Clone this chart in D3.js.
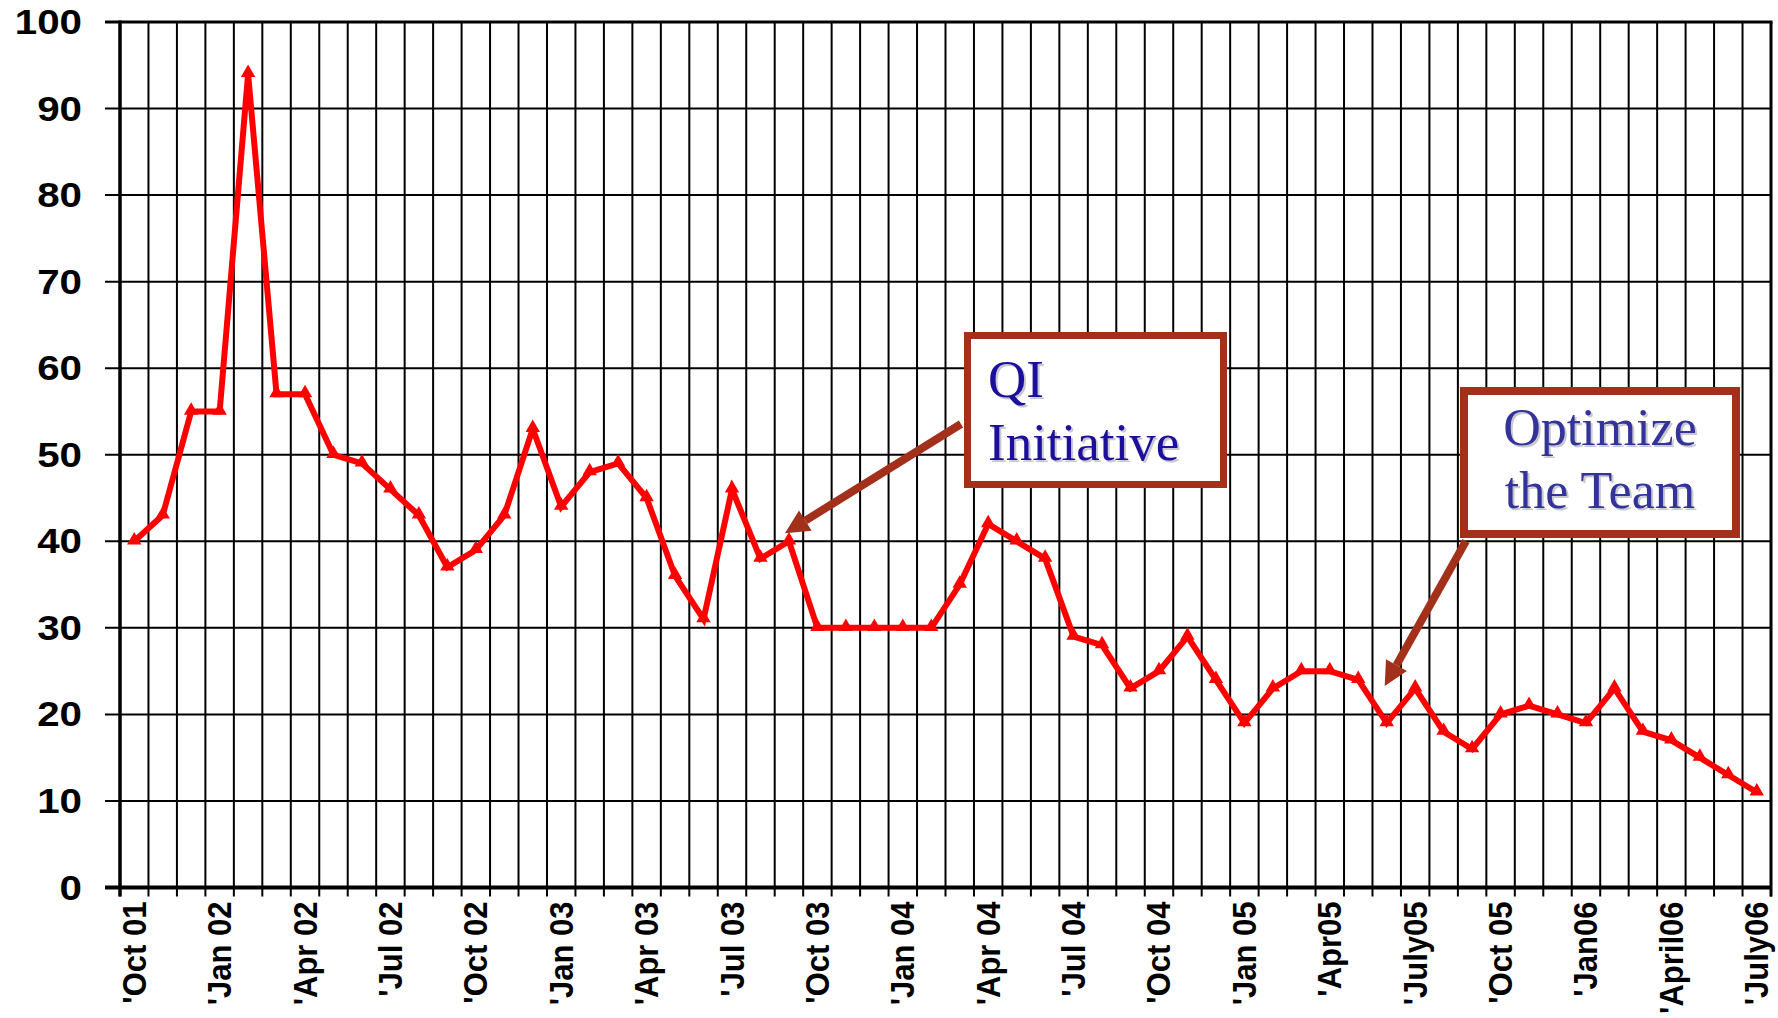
<!DOCTYPE html>
<html>
<head>
<meta charset="utf-8">
<script src="https://cdn.jsdelivr.net/npm/d3@7"></script>
<style>
  body { margin: 0; background: #fff; }
  svg { display: block; }
</style>
</head>
<body>
<div id="my_chart"></div>
<script>
// monthly categories, Oct 2001 .. Jul 2006
const categories = [
  "Oct 01","Nov 01","Dec 01",
  "Jan 02","Feb 02","Mar 02","Apr 02","May 02","Jun 02","Jul 02","Aug 02","Sep 02","Oct 02","Nov 02","Dec 02",
  "Jan 03","Feb 03","Mar 03","Apr 03","May 03","Jun 03","Jul 03","Aug 03","Sep 03","Oct 03","Nov 03","Dec 03",
  "Jan 04","Feb 04","Mar 04","Apr 04","May 04","Jun 04","Jul 04","Aug 04","Sep 04","Oct 04","Nov 04","Dec 04",
  "Jan 05","Feb 05","Mar 05","Apr 05","May 05","Jun 05","Jul 05","Aug 05","Sep 05","Oct 05","Nov 05","Dec 05",
  "Jan 06","Feb 06","Mar 06","Apr 06","May 06","Jun 06","Jul 06"
];

// values
const values = [
  40,43,55,55,94,57,57,50,49,46,
  43,37,39,43,53,44,48,49,45,36,
  31,46,38,40,30,30,30,30,30,35,
  42,40,38,29,28,23,25,29,24,19,
  23,25,25,24,19,23,18,16,20,21,
  20,19,23,18,17,15,13,11
];

// x tick labels, one every third month
const tickLabels = ["'Oct 01","'Jan 02","'Apr 02","'Jul 02","'Oct 02","'Jan 03","'Apr 03","'Jul 03","'Oct 03","'Jan 04",
  "'Apr 04","'Jul 04","'Oct 04","'Jan 05","'Apr05","'July05","'Oct 05","'Jan06","'April06","'July06"];

const yTicks = [0,10,20,30,40,50,60,70,80,90,100];

const data = categories.map((c, i) => ({month: c, value: values[i]}))

// set the dimensions and margins of the graph
const margin = {top: 22, right: 7, bottom: 130.5, left: 120},
    width = 1778 - margin.left - margin.right,
    height = 1018 - margin.top - margin.bottom;

const svg = d3.select("#my_chart")
  .append("svg")
    .attr("width", 1778)
    .attr("height", 1018)
  .append("g")
    .attr("transform", `translate(${margin.left}, ${margin.top})`);

// scales
const x = d3.scaleBand()
  .domain(categories)
  .range([0, width])
  .paddingInner(0)
  .paddingOuter(0);

const y = d3.scaleLinear()
  .domain([0, 100])
  .range([height, 0]);

// vertical grid lines at the category boundaries, with a tick below the axis
const bounds = categories.map(c => x(c)).concat([width]);
svg.append("g")
  .selectAll("line")
  .data(bounds)
  .enter()
  .append("line")
    .attr("x1", d => d)
    .attr("x2", d => d)
    .attr("y1", 0)
    .attr("y2", height + 9)
    .attr("stroke", "#000")
    .attr("stroke-width", 2);

// horizontal grid lines
svg.append("g")
  .selectAll("line")
  .data(yTicks)
  .enter()
  .append("line")
    .attr("x1", -15)
    .attr("x2", width)
    .attr("y1", d => y(d))
    .attr("y2", d => y(d))
    .attr("stroke", "#000")
    .attr("stroke-width", 2);

// y axis labels
const yAxis = svg.append("g")
  .call(d3.axisLeft(y).tickValues(yTicks).tickSize(0).tickPadding(0));
yAxis.select(".domain").remove();
yAxis.selectAll("text")
  .attr("x", 0)
  .attr("transform", "translate(-38,0) scale(1.12,1)")
  .style("font-family", "'Liberation Sans', Arial, sans-serif")
  .style("font-weight", "bold")
  .style("font-size", "36px")
  .attr("fill", "#000");

// x axis labels, rotated
const labelCats = tickLabels.map((t, i) => categories[i * 3]);
const xAxis = svg.append("g")
  .attr("transform", `translate(0, ${height})`)
  .call(d3.axisBottom(x).tickValues(labelCats).tickSize(0)
    .tickFormat((d, i) => tickLabels[i]));
xAxis.select(".domain").remove();
xAxis.selectAll("text")
  .attr("x", 0)
  .attr("y", 0)
  .attr("dy", "0.35em")
  .attr("text-anchor", "end")
  .attr("transform", "translate(0,14) scale(1.06,1) rotate(-90)")
  .style("font-family", "'Liberation Sans', Arial, sans-serif")
  .style("font-weight", "bold")
  .style("font-size", "31px")
  .attr("fill", "#000");

// frame: axes heavier than the grid
svg.append("line").attr("x1", 0).attr("x2", 0).attr("y1", -1.5).attr("y2", height + 9)
  .attr("stroke", "#000").attr("stroke-width", 3.5);
svg.append("line").attr("x1", -15).attr("x2", width).attr("y1", height).attr("y2", height)
  .attr("stroke", "#000").attr("stroke-width", 4);
svg.append("line").attr("x1", -15).attr("x2", width + 1.5).attr("y1", 0).attr("y2", 0)
  .attr("stroke", "#000").attr("stroke-width", 3);
svg.append("line").attr("x1", width).attr("x2", width).attr("y1", 0).attr("y2", height + 9)
  .attr("stroke", "#000").attr("stroke-width", 3);

// the series line
const cx = d => x(d.month) + x.bandwidth() / 2;
svg.append("path")
  .datum(data)
  .attr("d", d3.line()
    .x(cx)
    .y(d => y(d.value)))
  .attr("fill", "none")
  .attr("stroke", "#ff0000")
  .attr("stroke-width", 6)
  .attr("stroke-linejoin", "miter");

// triangle markers
svg.append("g")
  .selectAll("path")
  .data(data)
  .enter()
  .append("path")
    .attr("d", d3.symbol().type(d3.symbolTriangle).size(90))
    .attr("transform", d => `translate(${cx(d)}, ${y(d.value) - 1})`)
    .attr("fill", "#ff0000");

// annotations: arrow then callout box
const brown = "#a3301a";

function arrow(x1, y1, x2, y2) {
  const ang = Math.atan2(y2 - y1, x2 - x1);
  const headLen = 24, headW = 12;
  const bx = x2 - headLen * Math.cos(ang), by = y2 - headLen * Math.sin(ang);
  svg.append("line")
    .attr("x1", x1).attr("y1", y1).attr("x2", bx).attr("y2", by)
    .attr("stroke", brown).attr("stroke-width", 8);
  const px = Math.sin(ang) * headW, py = -Math.cos(ang) * headW;
  svg.append("path")
    .attr("d", `M${x2},${y2}L${bx + px},${by + py}L${bx - px},${by - py}Z`)
    .attr("fill", brown);
}

function callout(bx, by, bw, bh, sw, lines, color, anchor, tx, fs) {
  svg.append("rect")
    .attr("x", bx).attr("y", by).attr("width", bw).attr("height", bh)
    .attr("fill", "#fff").attr("stroke", brown).attr("stroke-width", sw);
  lines.forEach(l => {
    svg.append("text")
      .attr("x", tx + 2).attr("y", l.y + 2)
      .attr("text-anchor", anchor)
      .style("font-family", "'Liberation Serif', 'Times New Roman', serif")
      .style("font-size", fs + "px")
      .attr("fill", "#c8c8d0")
      .text(l.text);
    svg.append("text")
      .attr("x", tx).attr("y", l.y)
      .attr("text-anchor", anchor)
      .style("font-family", "'Liberation Serif', 'Times New Roman', serif")
      .style("font-size", fs + "px")
      .attr("fill", color)
      .text(l.text);
  });
}

// QI Initiative, pointing at Sep 03
arrow(841, 402, cx(data[23]) - 4, y(data[23].value) - 8);
callout(847.5, 313.5, 256, 149, 7,
  [{text: "QI", y: 375}, {text: "Initiative", y: 438}], "#1c0f9c", "start", 868, 53);

// Optimize the Team, pointing at Jun 05
arrow(1346, 519, cx(data[44]) - 2, y(data[44].value) - 37);
callout(1344, 369, 272, 143, 8,
  [{text: "Optimize", y: 423}, {text: "the Team", y: 486}], "#333399", "middle", 1480, 52);
</script>
</body>
</html>
